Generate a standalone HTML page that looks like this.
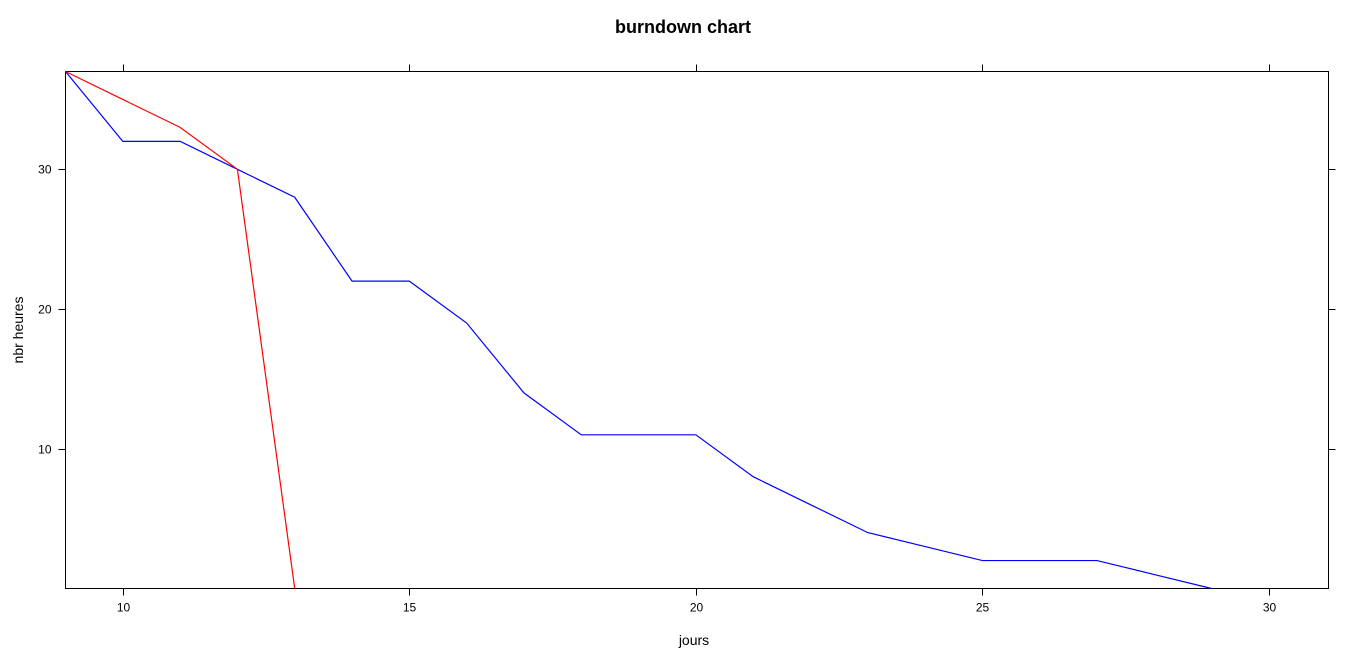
<!DOCTYPE html>
<html><head><meta charset="utf-8"><style>
html,body{margin:0;padding:0;background:#fff;}
svg{display:block;font-family:"Liberation Sans",sans-serif;}
</style></head><body>
<svg id="chart" width="1361" height="659" xmlns="http://www.w3.org/2000/svg">
<text x="683" y="33" text-anchor="middle" font-size="18" font-weight="bold">burndown chart</text>
<rect x="65.5" y="71.5" width="1263" height="517" fill="none" stroke="#000" stroke-width="1"/>
<g id="axes"></g>
<g id="series"></g>
<text x="694" y="645" text-anchor="middle" font-size="14">jours</text>
<text transform="translate(23,330) rotate(-90)" text-anchor="middle" font-size="14">nbr heures</text>
</svg>
<script>
const xTicks = [10, 15, 20, 25, 30];
const yTicks = [10, 20, 30];
const blueDays = [9,10,11,12,13,14,15,16,17,18,19,20,21,22,23,24,25,26,27,28,29];
const blueHours = [37,32,32,30,28,22,22,19,14,11,11,11,8,6,4,3,2,2,2,1,0];
const redDays = [9,10,11,12,13];
const redHours = [37,35,33,30,0];

const L=65.5,R=1328.5,T=71.5,B=588.5;
const xMin=9,xMax=31.04,yMin=0,yMax=37;
const sx=v=>L+(v-xMin)/(xMax-xMin)*(R-L);
const sy=v=>B-(v-yMin)/(yMax-yMin)*(B-T);
const NS="http://www.w3.org/2000/svg";
const axes=document.getElementById('axes');
function mk(tag,attrs,parent){const e=document.createElementNS(NS,tag);for(const k in attrs)e.setAttribute(k,attrs[k]);parent.appendChild(e);return e;}
xTicks.forEach(t=>{
  const x=Math.round(sx(t))+0.5;
  const a=mk('line',{x1:x,x2:x,y1:B,y2:B+7,stroke:'#000'},axes);
  
  
  const b=mk('line',{x1:x,x2:x,y1:T,y2:T-7,stroke:'#000'},axes);
  
  
  const l=mk('text',{x:x,y:B+23,'text-anchor':'middle','font-size':12},axes);
  l.textContent=t;
  
  
});
yTicks.forEach(t=>{
  const y=Math.round(sy(t))+0.5;
  const a=mk('line',{x1:L,x2:L-7,y1:y,y2:y,stroke:'#000'},axes);
  
  
  const b=mk('line',{x1:R,x2:R+7,y1:y,y2:y,stroke:'#000'},axes);
  
  
  const l=mk('text',{x:L-14,y:y+4,'text-anchor':'end','font-size':12},axes);
  l.textContent=t;
  
  
});
const series=document.getElementById('series');
function line(xs,ys,color,name){
  const p=mk('polyline',{points:xs.map((d,i)=>sx(d)+','+sy(ys[i])).join(' '),fill:'none',stroke:color,'stroke-width':1.2},series);
  
  
}
line(blueDays,blueHours,'#0000ff','actual-line');
line(redDays,redHours,'#ff0000','ideal-line');
</script>
</body></html>
